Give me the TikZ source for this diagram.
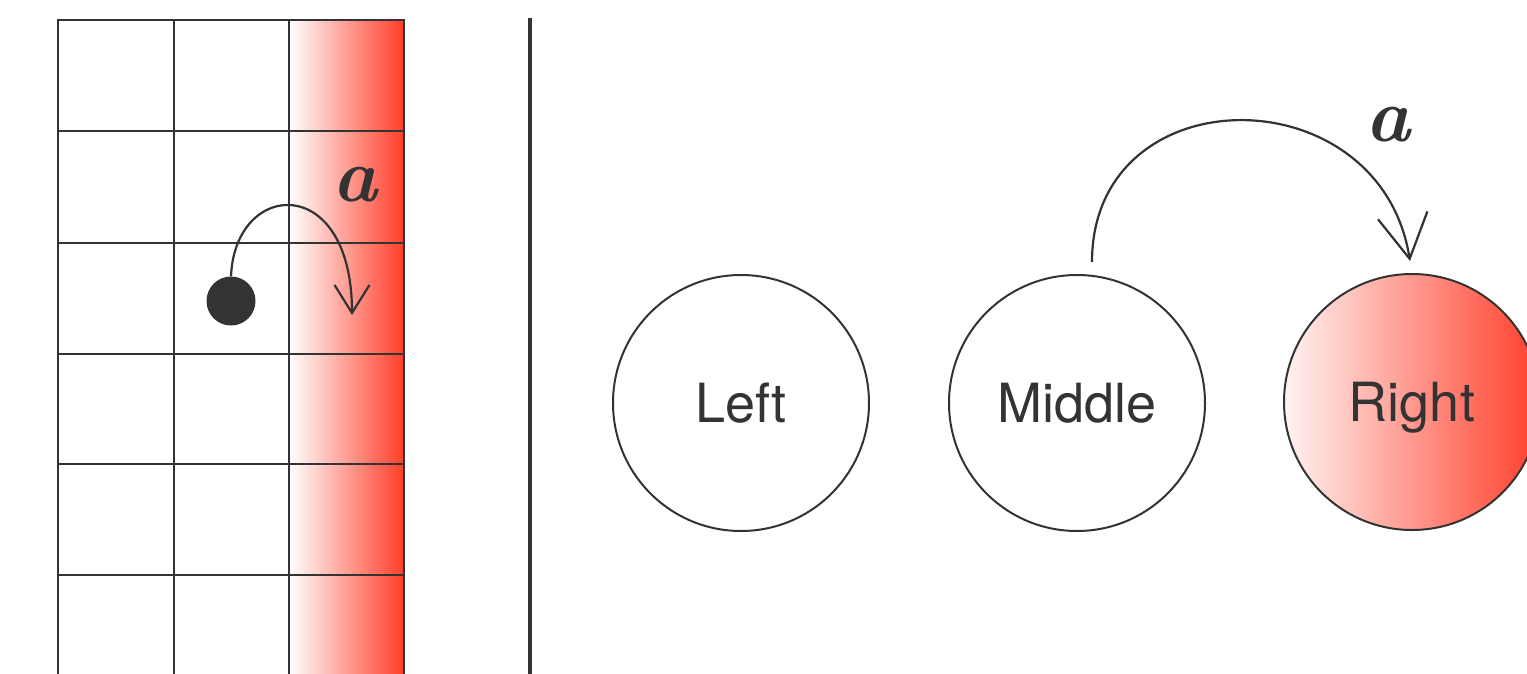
\documentclass[tikz,border=0pt]{standalone}
\usepackage{fontspec}
\setsansfont{TeX Gyre Heros}
\usetikzlibrary{arrows.meta,calc}
\definecolor{ink}{HTML}{333333}
\definecolor{hot}{RGB}{255,62,42}
\begin{document}
\begin{tikzpicture}[x=1pt,y=-1pt,
  gridline/.style={draw=ink,line width=2.4pt},
  state/.style={circle,draw=ink,line width=2pt,minimum size=256pt,inner sep=0pt,
    font=\sffamily\fontsize{54}{54}\selectfont,text=ink,text height=39pt,text depth=0pt},
  mathlbl/.style={font=\fontsize{76}{76}\selectfont\bfseries\itshape,text=ink,inner sep=0pt},
  smallarc/.style={draw=ink,line width=2.2pt,-{Straight Barb[length=28pt,width=35pt]}},
  bigarc/.style={draw=ink,line width=2.2pt,-{Straight Barb[length=44pt,width=50pt]}}]
\useasboundingbox (0,0) rectangle (1527,673);
\clip (0,0) rectangle (1527,673);
\fill[white] (0,0) rectangle (1527,673);
% red column
\shade[left color=white,right color=hot] (289,20) rectangle (404,680);
% grid
\foreach \x in {58,174,289,404} \draw[gridline] (\x,20) -- (\x,690);
\foreach \y in {20,131,243,354,464,575} \draw[gridline] (58,\y) -- (404,\y);
\draw[gridline,line join=miter] (58,690) -- (58,20) -- (404,20) -- (404,690);
% dot and jump
\node[circle,fill=ink,minimum size=49pt,inner sep=0pt] (dot) at (231,301) {};
\coordinate (land1) at (352,315);
\draw[smallarc] (dot.north) .. controls +(4,-97) and +(0,-143) .. (land1);
\node[mathlbl] (a1) at (355,185) {a};
% divider
\draw[ink,line width=4pt] (530,18) -- (530,690);
% states
\node[state] (left) at (741,403) {Left};
\node[state] (mid) at (1077,403) {Middle};
\node[state,left color=hot!6,right color=hot] (right) at (1412,402) {Right};
\coordinate (start2) at ($(mid.north)+(15,-12)$);
\coordinate (land2) at ($(right.north)+(-2,-12)$);
\draw[bigarc] (start2) .. controls +(0,-188) and +(-30,-188) .. (land2);
\node[mathlbl] (a2) at (1388,125) {a};
\end{tikzpicture}
\end{document}
